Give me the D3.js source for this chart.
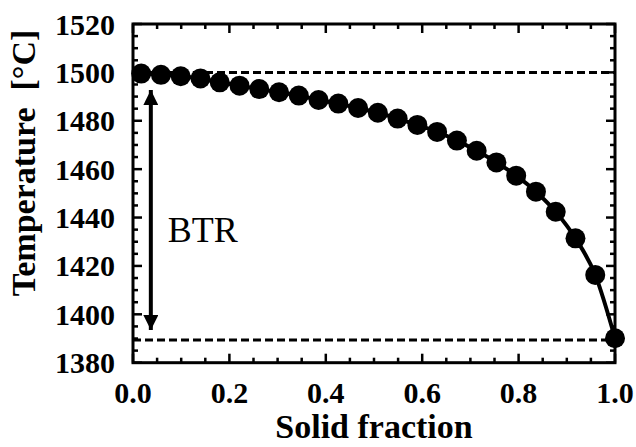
<!DOCTYPE html>
<html><head><meta charset="utf-8">
<script src="https://cdn.jsdelivr.net/npm/d3@7"></script>
<style>body{margin:0;background:#fff}svg{display:block}</style>
</head><body>
<svg id="c" width="636" height="447"></svg>
<script>
const solidFraction = [0.017,0.058,0.099,0.140,0.180,0.221,0.262,0.303,0.344,0.385,0.426,0.467,0.508,0.549,0.590,0.631,0.672,0.713,0.754,0.795,0.836,0.877,0.918,0.959,1.000];
const temperature = [1499.5,1499.0,1498.4,1497.5,1495.9,1494.5,1493.1,1491.8,1490.4,1488.6,1487.1,1485.3,1483.3,1480.9,1478.3,1475.4,1471.8,1467.6,1462.8,1457.3,1450.7,1442.4,1431.4,1416.3,1390.1];
const xTicks = [0.0,0.2,0.4,0.6,0.8,1.0];
const yTicks = [1380,1400,1420,1440,1460,1480,1500,1520];
const liquidus = 1500, solidus = 1389.4;
const btrArrow = {x:0.037, top:1492.7, bottom:1393.5};
const btrLabel = {text:"BTR", x:0.072, y:1430};

const svg = d3.select("#c");
const L=133, R=615, T=24, B=362.7;
const x = d3.scaleLinear().domain([0,1]).range([L,R]);
const y = d3.scaleLinear().domain([1380,1520]).range([B,T]);
const serif = "'Liberation Serif','Times New Roman',serif";

const xMinor = d3.range(0,1.0001,0.05);
const yMinor = d3.range(1380,1520.01,5);
const tk = svg.append("g").attr("stroke","#000").attr("stroke-width",2.5);
xMinor.forEach(v=>{
  const major = xTicks.some(t=>Math.abs(t-v)<1e-6);
  const len = major?9:5;
  tk.append("line").attr("x1",x(v)).attr("x2",x(v)).attr("y1",B).attr("y2",B-len);
  tk.append("line").attr("x1",x(v)).attr("x2",x(v)).attr("y1",T).attr("y2",T+len);
});
yMinor.forEach(v=>{
  const major = yTicks.some(t=>Math.abs(t-v)<1e-6);
  const len = major?9:5;
  tk.append("line").attr("y1",y(v)).attr("y2",y(v)).attr("x1",L).attr("x2",L+len);
  tk.append("line").attr("y1",y(v)).attr("y2",y(v)).attr("x1",R).attr("x2",R-len);
});

svg.append("rect").attr("x",L).attr("y",T).attr("width",R-L).attr("height",B-T)
  .attr("fill","none").attr("stroke","#000").attr("stroke-width",3);

svg.append("g").selectAll("text").data(xTicks).join("text")
  .attr("x",d=>x(d)).attr("y",403).attr("text-anchor","middle")
  .attr("font-family",serif).attr("font-weight","bold").attr("font-size",30)
  .text(d=>d.toFixed(1));
svg.append("g").selectAll("text").data(yTicks).join("text")
  .attr("x",115).attr("y",d=>y(d)).attr("dy","0.35em").attr("text-anchor","end")
  .attr("font-family",serif).attr("font-weight","bold").attr("font-size",30)
  .text(d=>d);

svg.append("text").attr("x",(L+R)/2).attr("y",438).attr("text-anchor","middle")
  .attr("font-family",serif).attr("font-weight","bold").attr("font-size",34)
  .text("Solid fraction");
svg.append("text").attr("transform","translate(35,163) rotate(-90)").attr("text-anchor","middle")
  .attr("font-family",serif).attr("font-weight","bold").attr("font-size",34)
  .attr("xml:space","preserve").text("Temperature  [°C]");

[liquidus, solidus].forEach(v=>{
  svg.append("line").attr("x1",x(0)).attr("x2",x(1)).attr("y1",y(v)).attr("y2",y(v))
    .attr("stroke","#000").attr("stroke-width",3).attr("stroke-dasharray","8,4");
});

const defs = svg.append("defs");
defs.append("marker").attr("id","ah").attr("viewBox","0 0 10 10").attr("refX",10).attr("refY",5)
  .attr("markerUnits","userSpaceOnUse").attr("markerWidth",15).attr("markerHeight",15).attr("orient","auto-start-reverse")
  .append("path").attr("d","M0,0 L10,5 L0,10 Z").attr("fill","#000");
svg.append("line").attr("x1",x(btrArrow.x)).attr("x2",x(btrArrow.x))
  .attr("y1",y(btrArrow.top)).attr("y2",y(btrArrow.bottom))
  .attr("stroke","#000").attr("stroke-width",4)
  .attr("marker-start","url(#ah)").attr("marker-end","url(#ah)");
svg.append("text").attr("x",x(btrLabel.x)).attr("y",y(btrLabel.y)).attr("font-family",serif)
  .attr("font-size",36).text(btrLabel.text);

const pts = solidFraction.map((d,i)=>[d,temperature[i]]);
svg.append("path").datum(pts)
  .attr("d",d3.line().x(d=>x(d[0])).y(d=>y(d[1])).curve(d3.curveMonotoneX))
  .attr("fill","none").attr("stroke","#000").attr("stroke-width",4);
svg.append("g").selectAll("circle").data(pts).join("circle")
  .attr("cx",d=>x(d[0])).attr("cy",d=>y(d[1])).attr("r",10).attr("fill","#000");
</script>
</body></html>
